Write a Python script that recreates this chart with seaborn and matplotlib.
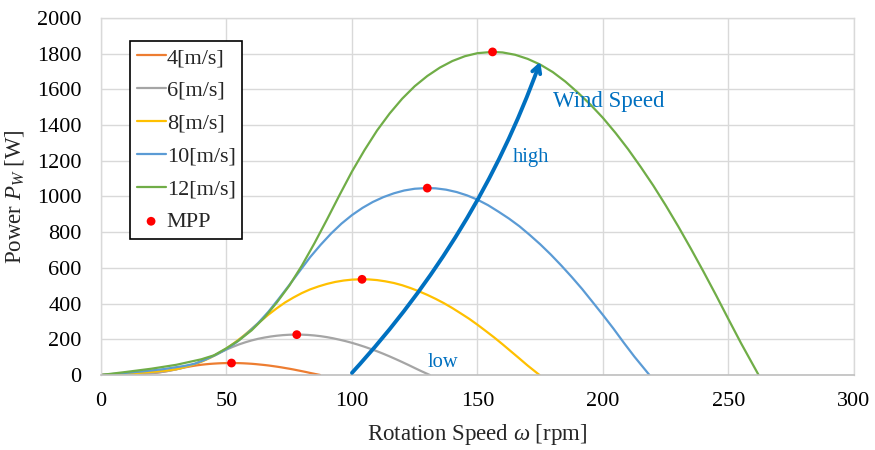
import matplotlib
matplotlib.use("Agg")
import matplotlib.pyplot as plt
import seaborn as sns
import pandas as pd

# Wind turbine power curves P_W versus rotor speed for several wind speeds
rpm_4 = [0, 3.3, 6.7, 10, 13.3, 15, 16.7, 18.3, 20, 21.7, 23.3, 25, 26.7, 28.3, 30, 31.7, 33.3, 35, 36.7, 38.3,
         40, 41.7, 43.3, 45, 46.7, 48.3, 50, 52, 53.3, 55, 56.7, 58.3, 60, 61.7, 63.3, 65, 66.7, 68.3, 70,
         71.7, 73.3, 75, 76.7, 78.3, 80, 81.7, 83.3, 85, 87.3]
pw_4 = [0, 0.6, 1.3, 2.1, 3.3, 4.1, 5.6, 7.2, 9.3, 11.8, 15, 18.5, 22.6, 27.3, 32.2, 37.3, 42.2, 46.6, 50.7, 54.2,
        57.3, 59.9, 62, 63.7, 65.1, 66.1, 66.7, 67, 66.9, 66.4, 65.5, 64.3, 62.8, 60.8, 58.5, 56.1, 53.3, 50.2, 46.8,
        43.1, 39.2, 35.2, 30.8, 26.2, 21.5, 16.6, 11.5, 6.6, 0]

rpm_6 = [0, 5, 10, 15, 20, 22.5, 25, 27.5, 30, 32.5, 35, 37.5, 40, 42.5, 45, 47.5, 50, 52.5, 55, 57.5,
         60, 62.5, 65, 67.5, 70, 72.5, 75, 78, 80, 82.5, 85, 87.5, 90, 92.5, 95, 97.5, 100, 102.5, 105,
         107.5, 110, 112.5, 115, 117.5, 120, 122.5, 125, 127.5, 131]
pw_6 = [0, 2.1, 4.4, 7.1, 11, 13.8, 18.8, 24.4, 31.3, 40, 50.6, 62.5, 76.5, 92.1, 108.8, 125.9, 142.5, 157.5, 171.3, 183.1,
        193.5, 202.3, 209.4, 215.3, 219.9, 223.3, 225.4, 226.3, 225.9, 224.3, 221.4, 217.4, 212.1, 205.5, 197.8, 189.4, 180, 169.5, 158.1,
        145.8, 132.8, 118.8, 104, 88.5, 72.5, 56, 39, 22.3, 0]

rpm_8 = [0, 6.7, 13.3, 20, 26.7, 30, 33.3, 36.7, 40, 43.3, 46.7, 50, 53.3, 56.7, 60, 63.3, 66.7, 70, 73.3, 76.7,
         80, 83.3, 86.7, 90, 93.3, 96.7, 100, 104, 106.7, 110, 113.3, 116.7, 120, 123.3, 126.7, 130, 133.3, 136.7, 140,
         143.3, 146.7, 150, 153.3, 156.7, 160, 163.3, 166.7, 170, 174.7]
pw_8 = [0, 5, 10.4, 16.9, 26.1, 32.6, 44.4, 57.8, 74.1, 94.8, 120, 148.2, 181.3, 218.4, 257.8, 298.4, 337.8, 373.3, 405.9, 434.1,
        458.7, 479.4, 496.3, 510.2, 521.2, 529.2, 534.2, 536.3, 535.4, 531.6, 524.7, 515.3, 502.8, 487.1, 468.7, 448.9, 426.7, 401.8, 374.8,
        345.5, 314.7, 281.5, 246.5, 209.8, 171.9, 132.7, 92.4, 52.7, 0]

rpm_10 = [0, 8.3, 16.7, 25, 33.3, 37.5, 41.7, 45.8, 50, 54.2, 58.3, 62.5, 66.7, 70.8, 75, 79.2, 83.3, 87.5, 91.7, 95.8,
          100, 104.2, 108.3, 112.5, 116.7, 120.8, 125, 130, 133.3, 137.5, 141.7, 145.8, 150, 154.2, 158.3, 162.5, 166.7, 170.8, 175,
          179.2, 183.3, 187.5, 191.7, 195.8, 200, 204.2, 208.3, 212.5, 218.5]
pw_10 = [0, 9.8, 20.3, 33, 50.9, 63.7, 86.8, 112.8, 144.7, 185.2, 234.4, 289.4, 354.2, 426.5, 503.5, 582.8, 659.7, 729.2, 792.8, 847.8,
         895.8, 936.3, 969.3, 996.5, 1017.9, 1033.6, 1043.4, 1047.4, 1045.7, 1038.2, 1024.9, 1006.4, 982.1, 951.4, 915.5, 876.7, 833.3, 784.7, 732.1,
         674.8, 614.6, 549.8, 481.5, 409.7, 335.7, 259.3, 180.6, 103, 0]

rpm_12 = [0, 10, 20, 30, 40, 45, 50, 55, 60, 65, 70, 75, 80, 85, 90, 95, 100, 105, 110, 115,
          120, 125, 130, 135, 140, 145, 150, 156, 160, 165, 170, 175, 180, 185, 190, 195, 200, 205, 210,
          215, 220, 225, 230, 235, 240, 245, 250, 255, 262]
pw_12 = [0, 17, 35, 57, 88, 110, 150, 195, 250, 320, 405, 500, 612, 737, 870, 1007, 1140, 1260, 1370, 1465,
         1548, 1618, 1675, 1722, 1759, 1786, 1803, 1810, 1807, 1794, 1771, 1739, 1697, 1644, 1582, 1515, 1440, 1356, 1265,
         1166, 1062, 950, 832, 708, 580, 448, 312, 178, 0]

# Maximum power points
mpp_rpm = [52, 78, 104, 130, 156]
mpp_pw = [67, 226, 536, 1047, 1810]

series_labels = ["4[m/s]", "6[m/s]", "8[m/s]", "10[m/s]", "12[m/s]"]
series_colors = ["#ED7D31", "#A5A5A5", "#FFC000", "#5B9BD5", "#70AD47"]
series_data = [(rpm_4, pw_4), (rpm_6, pw_6), (rpm_8, pw_8), (rpm_10, pw_10), (rpm_12, pw_12)]

sns.set_style("white")
plt.rcParams["font.family"] = ["Liberation Serif", "DejaVu Serif"]
plt.rcParams["mathtext.fontset"] = "custom"
plt.rcParams["mathtext.rm"] = "Liberation Serif"
plt.rcParams["mathtext.it"] = "Liberation Serif:italic"

fig = plt.figure(figsize=(8.75, 4.5), dpi=100)
ax = fig.add_axes([0.1154, 0.1667, 0.8606, 0.7933])

for label, color, (xs, ys) in zip(series_labels, series_colors, series_data):
    df = pd.DataFrame({"rpm": xs, "power": ys})
    sns.lineplot(data=df, x="rpm", y="power", ax=ax, color=color, linewidth=1.6, label=label)

mpp_df = pd.DataFrame({"rpm": mpp_rpm, "power": mpp_pw})
sns.scatterplot(data=mpp_df, x="rpm", y="power", ax=ax, color="#FF0000", s=40,
                edgecolor="none", zorder=5, label="MPP")

# Wind-speed direction arrow and annotations
arrow_col = "#0070C0"
ax.annotate("", xy=(175, 1755), xytext=(100, 12),
            arrowprops=dict(arrowstyle="->,head_length=0.55,head_width=0.3", color=arrow_col,
                            lw=2.8, connectionstyle="arc3,rad=0.1", shrinkA=0, shrinkB=0),
            zorder=6)
ax.text(180, 1530, "Wind Speed", color=arrow_col, fontsize=16.5, va="center", ha="left")
ax.text(164, 1220, "high", color=arrow_col, fontsize=14.8, va="center", ha="left")
ax.text(130, 70, "low", color=arrow_col, fontsize=14.8, va="center", ha="left")

ax.set_xlim(0, 300)
ax.set_ylim(0, 2000)
ax.set_xticks(range(0, 301, 50))
ax.set_yticks(range(0, 2001, 200))
ax.grid(True, color="#D9D9D9", linewidth=1.0)
ax.set_axisbelow(True)
for side in ["left", "right", "top"]:
    ax.spines[side].set_color("#D9D9D9")
    ax.spines[side].set_linewidth(1.0)
ax.spines["bottom"].set_color("#BFBFBF")
ax.spines["bottom"].set_linewidth(1.2)
ax.tick_params(axis="both", length=0, labelsize=16, colors="black")
ax.tick_params(axis="y", pad=14)
ax.tick_params(axis="x", pad=12)

ax.set_xlabel(r"Rotation Speed $\omega$ [rpm]", fontsize=16.5, labelpad=8)
ax.set_ylabel(r"Power $P_W$ [W]", fontsize=16.5, labelpad=8)

leg = ax.legend(loc="upper left", bbox_to_anchor=(0.0385, 0.9356), borderaxespad=0,
                fontsize=16, frameon=True, fancybox=False, framealpha=1,
                handlelength=1.3, handletextpad=0.05, labelspacing=0.55,
                borderpad=0.3)
leg.get_frame().set_edgecolor("black")
leg.get_frame().set_linewidth(1.2)

fig.savefig("out.png", dpi=100)
